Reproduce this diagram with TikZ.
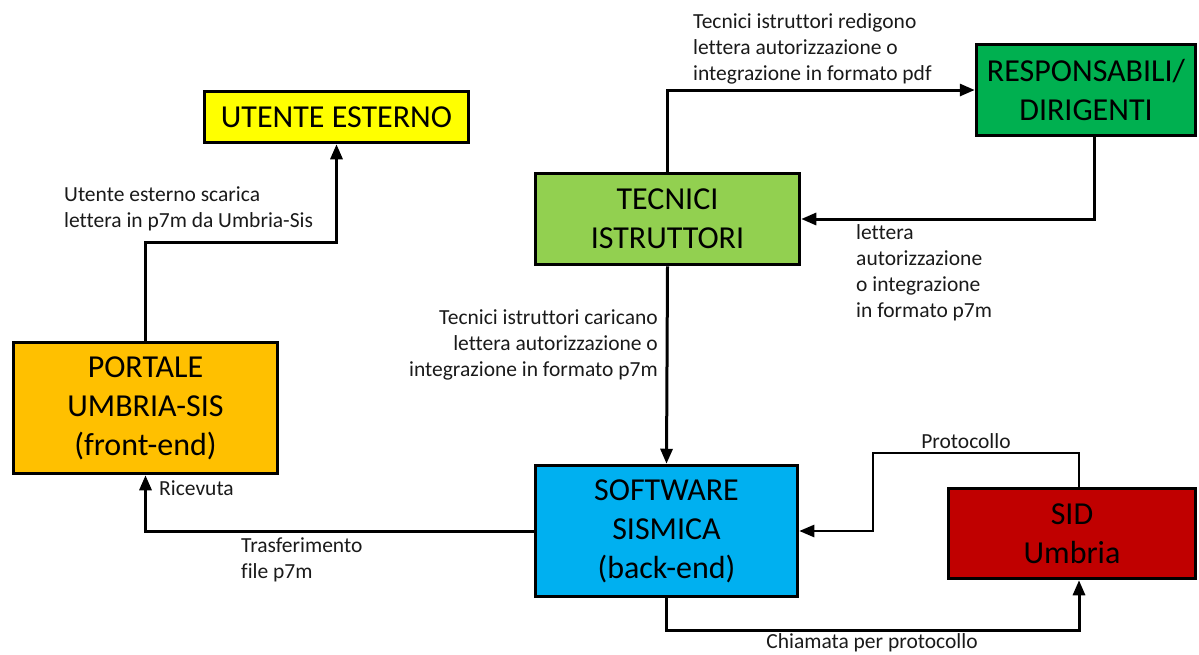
\documentclass[tikz,border=0pt]{standalone}
\usepackage{fontspec}
\setmainfont{Carlito}[Ligatures=NoCommon]
\usetikzlibrary{arrows.meta}
\definecolor{cyellow}{HTML}{FFFF00}
\definecolor{corange}{HTML}{FFC000}
\definecolor{clgreen}{HTML}{92D050}
\definecolor{cgreen}{HTML}{00B050}
\definecolor{cblue}{HTML}{00B0F0}
\definecolor{cred}{HTML}{C00000}
\definecolor{ctext}{HTML}{1A1A1A}
\tikzset{
  box/.style={draw=black, line width=3.5pt, inner sep=0pt, align=center,
    font=\fontsize{32}{39}\selectfont},
  conn/.style={line width=3pt, -{Triangle[length=15pt,width=12pt]}},
  conn2/.style={line width=2.5pt, -{Triangle[length=15pt,width=12pt]}},
  lbl/.style={inner sep=0pt, text=ctext, font=\fontsize{21.5}{26}\selectfont},
}
\begin{document}
\begin{tikzpicture}[x=1pt,y=-1pt]
\useasboundingbox (0,0) rectangle (1199,654);
% boxes
\node[box, fill=cyellow, minimum width=264pt, minimum height=51pt] (ute) at (336.5,117) {UTENTE ESTERNO};
\node[box, fill=cgreen, minimum width=219pt, minimum height=91pt] (resp) at (1086,90) {RESPONSABILI/\\DIRIGENTI};
\node[box, fill=clgreen, minimum width=264pt, minimum height=91pt] (tec) at (667.5,219) {TECNICI\\ISTRUTTORI};
\node[box, fill=corange, minimum width=264pt, minimum height=131pt] (port) at (145.5,408) {PORTALE\\UMBRIA-SIS\\(front-end)};
\node[box, fill=cblue, minimum width=262pt, minimum height=131pt] (sw) at (666.5,531) {SOFTWARE\\SISMICA\\(back-end)};
\node[box, fill=cred, minimum width=247pt, minimum height=90pt] (sid) at (1072,533.5) {SID\\Umbria};
% helper coordinates
\coordinate (c1) at (336.5,242);
\coordinate (p1) at (873,453);
\coordinate (c2) at (1079,630);
% connectors
\draw[conn] (tec.north) |- (resp.west);
\draw[conn] ([xshift=8pt]resp.south) |- (tec.east);
\draw[conn] (tec.south) -- (sw.north);
\draw[conn] (sw.west) -| (port.south);
\draw[conn] (port.north) |- (c1) -- (ute.south);
\draw[conn2] ([xshift=7pt]sid.north) |- (p1) |- (sw.east);
\draw[conn] (sw.south) |- (c2) -- ([xshift=7pt]sid.south);
% labels
\node[lbl, anchor=west, align=left] (l1) at (693,49) {Tecnici istruttori redigono\\lettera autorizzazione o\\integrazione in formato pdf};
\node[lbl, anchor=west, align=left] (l2) at (856,273) {lettera\\autorizzazione\\o integrazione\\in formato p7m};
\node[lbl, anchor=east, align=right] (l3) at (658,345) {Tecnici istruttori caricano\\lettera autorizzazione o\\integrazione in formato p7m};
\node[lbl, anchor=west, align=left] (l4) at (64,209) {Utente esterno scarica\\lettera in p7m da Umbria-Sis};
\node[lbl, anchor=west] (l5) at (159,488) {Ricevuta};
\node[lbl, anchor=west, align=left] (l6) at (241,560) {Trasferimento\\file p7m};
\node[lbl] (l7) at (966,441) {Protocollo};
\node[lbl] (l8) at (872,643) {Chiamata per protocollo};
\end{tikzpicture}
\end{document}
